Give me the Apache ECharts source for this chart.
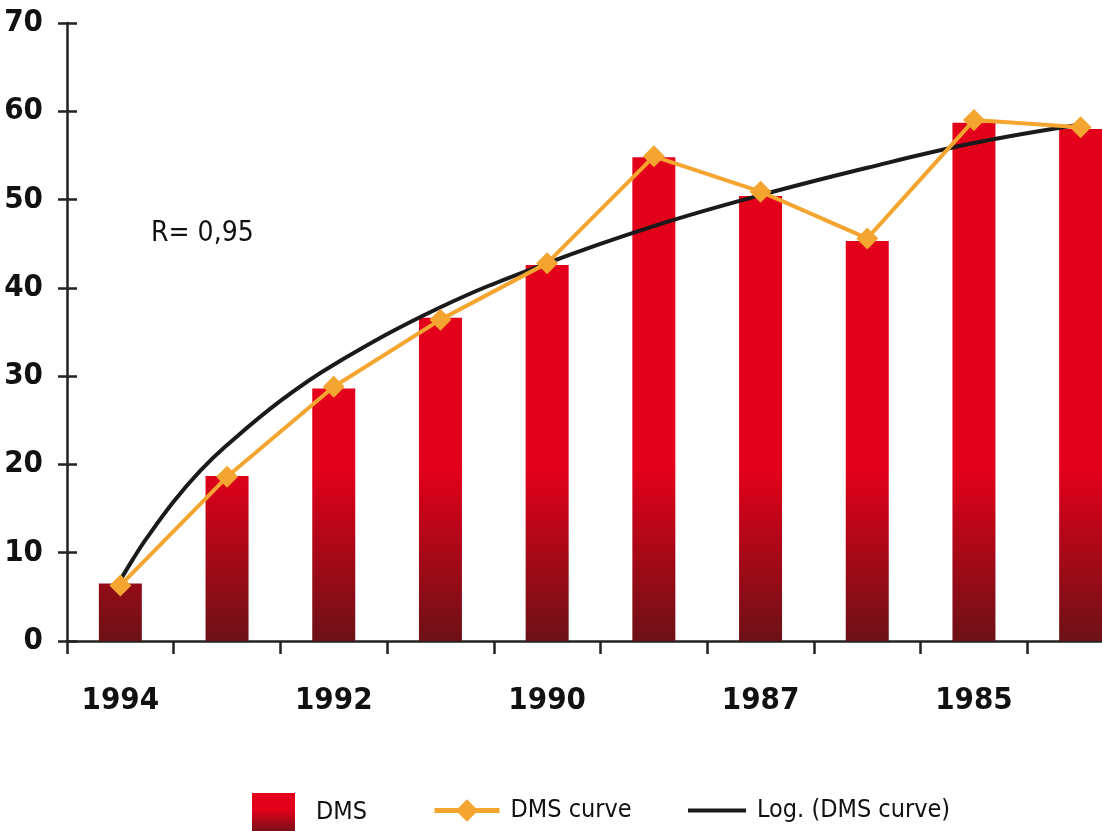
<!DOCTYPE html>
<html><head><meta charset="utf-8">
<script src="https://cdn.jsdelivr.net/npm/echarts@6/dist/echarts.min.js"></script>
<style>html,body{margin:0;padding:0;background:#fff}#c{width:1102px;height:831px}</style>
</head><body><div id="c"></div>
<script>
const categories = ['1994','1993','1992','1991','1990','1988','1987','1986','1985','1984'];
const dmsValues = [6.5, 18.7, 28.6, 36.6, 42.6, 54.8, 50.4, 45.3, 58.7, 58.0];
const curveValues = [6.3, 18.6, 28.8, 36.4, 42.8, 54.9, 50.9, 45.6, 59.0, 58.2];
// log trend line at positions along the category axis (0..10 = axis span)
const logX = [0.5, 0.62, 0.75, 1.0, 1.25, 1.5, 2.0, 2.5, 3.5, 4.5, 5.5, 6.5, 7.5, 8.5, 9.5];
const logY = [6.9, 9.3, 11.7, 15.8, 19.3, 22.2, 27.2, 31.3, 37.8, 42.8, 47.0, 50.5, 53.6, 56.4, 58.5];
const yTicks = [0, 10, 20, 30, 40, 50, 60, 70];
const rText = 'R= 0,95';

const FONT = "'DejaVu Sans Condensed','Liberation Sans Narrow',sans-serif";
const chart = echarts.init(document.getElementById('c'), null, {renderer: 'canvas'});
const barGrad = new echarts.graphic.LinearGradient(0, 470, 0, 641, [
  {offset: 0, color: '#E2001A'}, {offset: 1, color: '#6C1116'}
], true);
const legendGrad = new echarts.graphic.LinearGradient(0, 0, 0, 1, [
  {offset: 0, color: '#E2001A'}, {offset: 0.45, color: '#E2001A'}, {offset: 1, color: '#7A1018'}
]);
const legendText = {fontFamily: FONT, fontSize: 25, color: '#111'};
chart.setOption({
  animation: false,
  grid: {left: 67, top: 23, width: 1067, bottom: 190, containLabel: false, outerBoundsMode: 'none'},
  xAxis: [{
    type: 'category', data: categories, boundaryGap: true,
    axisLine: {lineStyle: {color: '#222', width: 2.5}},
    axisTick: {show: true, interval: 0, length: 13, lineStyle: {color: '#222', width: 2.5}},
    axisLabel: {interval: 1, margin: 44, fontFamily: FONT, fontWeight: 'bold', fontSize: 31, color: '#111'}
  }, {
    type: 'value', min: 0, max: 10, show: false
  }],
  yAxis: [{
    type: 'value', min: yTicks[0], max: yTicks[yTicks.length - 1], interval: 10,
    splitLine: {show: false},
    axisLine: {show: true, lineStyle: {color: '#222', width: 2.5}},
    axisTick: {show: true, length: 9, lineStyle: {color: '#222', width: 2.5}},
    axisLabel: {margin: 24, fontFamily: FONT, fontWeight: 'bold', fontSize: 31, color: '#111'}
  }, {
    type: 'value', min: 0, max: 70, interval: 10, position: 'left',
    splitLine: {show: false}, axisLine: {show: false}, axisLabel: {show: false},
    axisTick: {show: true, inside: true, length: 10, lineStyle: {color: '#222', width: 2.5}}
  }],
  legend: [{
    left: 252, top: 793, itemWidth: 43, itemHeight: 38, padding: 0,
    data: [{name: 'DMS', icon: 'rect', itemStyle: {color: legendGrad}}],
    textStyle: Object.assign({padding: [0, 0, 0, 16]}, legendText)
  }, {
    left: 432, top: 798, itemWidth: 65, itemHeight: 28, padding: 0,
    data: ['DMS curve'], lineStyle: {width: 5},
    textStyle: Object.assign({padding: [0, 0, 0, 6]}, legendText)
  }, {
    left: 688, top: 798, itemWidth: 58, itemHeight: 28, padding: 0,
    data: [{name: 'Log. (DMS curve)', icon: 'path://M0,0 L58,0 L58,4 L0,4 Z'}],
    textStyle: Object.assign({padding: [0, 0, 0, 6]}, legendText)
  }],
  graphic: [{
    type: 'text', left: 151, top: 220,
    style: {text: rText, fontFamily: FONT, fontSize: 28, fill: '#111'}
  }],
  series: [{
    name: 'DMS', type: 'bar', data: dmsValues, barWidth: 43,
    itemStyle: {color: barGrad}
  }, {
    name: 'Log. (DMS curve)', type: 'line', xAxisIndex: 1,
    data: logX.map((x, i) => [x, logY[i]]), smooth: 0.4, showSymbol: false, symbol: 'none',
    lineStyle: {color: '#1A1A1A', width: 4}, itemStyle: {color: '#1A1A1A'}, z: 3
  }, {
    name: 'DMS curve', type: 'line', data: curveValues,
    symbol: 'diamond', symbolSize: 22,
    lineStyle: {color: '#F4A530', width: 4}, itemStyle: {color: '#F4A530'}, z: 4
  }]
});
</script></body></html>
